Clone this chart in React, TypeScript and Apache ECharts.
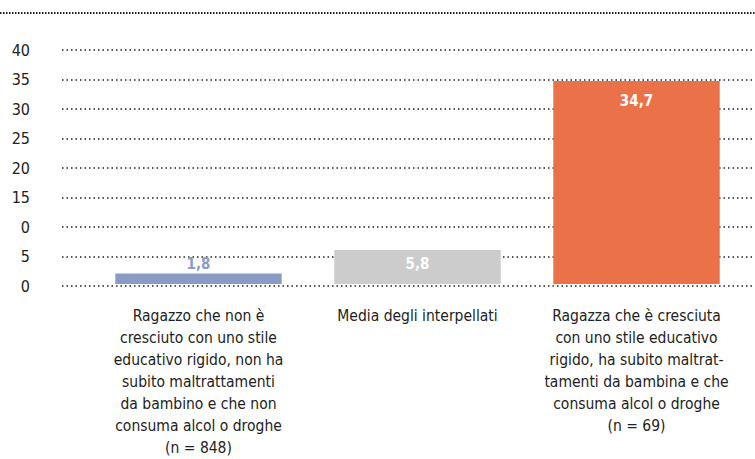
import React, { useEffect, useRef } from "react";
import * as echarts from "echarts";

const categories = [
  "Ragazzo che non è\ncresciuto con uno stile\neducativo rigido, non ha\nsubito maltrattamenti\nda bambino e che non\nconsuma alcol o droghe\n(n = 848)",
  "Media degli interpellati",
  "Ragazza che è cresciuta\ncon uno stile educativo\nrigido, ha subito maltrat-\ntamenti da bambina e che\nconsuma alcol o droghe\n(n = 69)",
];
const values = [1.8, 5.8, 34.7];
const barColors = ["#8a9cc5", "#cccccc", "#eb7148"];
const tickLabels = ["0", "5", "0", "15", "20", "25", "30", "35", "40"];

const FONT = "'DejaVu Sans Condensed', 'Liberation Sans Narrow', 'Open Sans', sans-serif";

export default function App() {
  const ref = useRef<HTMLDivElement>(null);
  useEffect(() => {
    if (!ref.current) return;
    const chart = echarts.init(ref.current, undefined, { renderer: "svg" });
    chart.setOption({
      animation: false,
      grid: [
        { left: 62, right: 0, top: 50, height: 236 },
        { left: 89, right: 9, top: 50, height: 236 },
      ],
      xAxis: [
        { type: "category", gridIndex: 0, data: ["a"], show: false },
        {
          type: "category",
          gridIndex: 1,
          data: categories,
          axisLine: { show: false },
          axisTick: { show: false },
          axisLabel: {
            interval: 0,
            margin: 21,
            fontFamily: FONT,
            fontSize: 15.5,
            lineHeight: 22,
            color: "#222",
            align: "center",
          },
        },
      ],
      yAxis: [
        {
          type: "value",
          gridIndex: 0,
          min: 0,
          max: 40,
          interval: 5,
          axisLine: { show: false },
          axisTick: { show: false },
          axisLabel: {
            margin: 32,
            fontFamily: FONT,
            fontSize: 16,
            color: "#222",
            formatter: (v: number) => tickLabels[Math.round(v / 5)] ?? "",
          },
          splitLine: {
            lineStyle: { color: "#222", width: 1.5, type: [1.5, 3] },
          },
        },
        {
          type: "value",
          gridIndex: 1,
          min: 0,
          max: 40,
          interval: 5,
          show: false,
          splitLine: { show: false },
        },
      ],
      graphic: [
        {
          type: "line",
          shape: { x1: 0, y1: 13, x2: 755, y2: 13 },
          style: { stroke: "#222", lineWidth: 2, lineDash: [1.5, 1.5] },
        },
      ],
      series: [
        {
          type: "bar",
          xAxisIndex: 1,
          yAxisIndex: 1,
          barWidth: "76%",
          data: values.map((v, i) => ({
            value: v,
            itemStyle: { color: barColors[i] },
            label:
              i === 0
                ? { position: "top", distance: 2, color: barColors[0] }
                : { position: "insideTop", distance: i === 1 ? 6 : 12, color: "#fff" },
          })),
          label: {
            show: true,
            fontFamily: FONT,
            fontSize: 15,
            fontWeight: "bold",
            formatter: (p: any) => String(p.value).replace(".", ","),
          },
        },
      ],
    });
    return () => chart.dispose();
  }, []);
  return <div ref={ref} style={{ width: 755, height: 459, position: "absolute", left: 0, top: 0 }} />;
}
